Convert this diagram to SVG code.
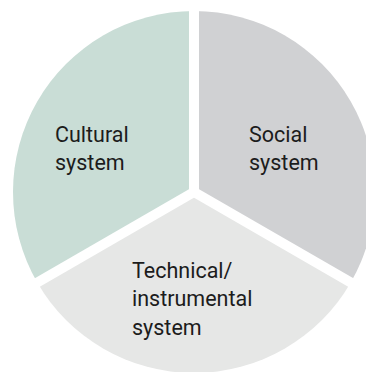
<svg xmlns="http://www.w3.org/2000/svg" width="366" height="372" viewBox="0 0 366 372">
<style>
.lbl{font-family:Roboto,"Liberation Sans",Arial,sans-serif;font-size:21.5px;fill:#1c1c1c}
.sep{stroke:#ffffff;stroke-width:10;stroke-linecap:butt;fill:none}
</style>
<rect width="366" height="372" fill="#ffffff"/>
<g id="cultural">
<path d="M194,192 L194,11 A181,181 0 0 0 37.25,282.5 Z" fill="#c9ddd6"/>
<text class="lbl"><tspan x="55" y="141.7">Cultural</tspan><tspan x="55" y="170">system</tspan></text>
</g>
<g id="social">
<path d="M194,192 L194,11 A181,181 0 0 1 350.75,282.5 Z" fill="#d0d1d3"/>
<text class="lbl"><tspan x="249" y="141.7">Social</tspan><tspan x="249" y="170">system</tspan></text>
</g>
<g id="technical">
<path d="M194,192 L350.75,282.5 A181,181 0 0 1 37.25,282.5 Z" fill="#e6e7e6"/>
<text class="lbl"><tspan x="132" y="277.5">Technical/</tspan><tspan x="132" y="306">instrumental</tspan><tspan x="132" y="334.5">system</tspan></text>
</g>
<g id="separators">
<line class="sep" x1="194" y1="192" x2="194" y2="0"/>
<line class="sep" x1="194" y1="192" x2="20" y2="292.5"/>
<line class="sep" x1="194" y1="192" x2="368" y2="292.5"/>
</g>
</svg>
